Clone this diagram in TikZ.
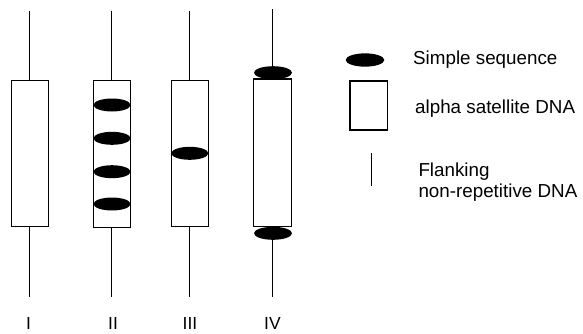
\documentclass[tikz,border=0pt]{standalone}
\usetikzlibrary{shapes.geometric}
\usepackage{fontspec}
\setmainfont{Liberation Sans}
\begin{document}
\begin{tikzpicture}[x=1pt,y=-1pt,
  strand/.style={line width=1.3pt},
  sat/.style={draw,line width=1.3pt,fill=white},
  simple/.style={ellipse,fill=black,draw=none,minimum width=37pt,minimum height=13pt,inner sep=0pt},
  legtext/.style={anchor=base west,inner sep=0pt,font=\fontsize{18.8}{19}\selectfont},
  numlab/.style={anchor=base,inner sep=0pt,font=\fontsize{17.5}{17}\selectfont}]
\useasboundingbox (0,0) rectangle (583,333);
% Column I
\coordinate (t1) at (29.5,10.7);
\coordinate (b1) at (29.5,296.7);
\draw[strand] (t1) -- (b1);
\node[sat,minimum width=37pt,minimum height=146pt,inner sep=0pt] (box1) at (30.2,153.7) {};
\node[numlab] (l1) at (28.5,329) {I};
% Column II
\coordinate (t2) at (111.7,10.7);
\coordinate (b2) at (111.7,296.7);
\draw[strand] (t2) -- (b2);
\node[sat,minimum width=36.6pt,minimum height=147pt,inner sep=0pt] (box2) at (112,154.2) {};
\node[simple] (e2a) at (112,105) {};
\node[simple] (e2b) at (112,138.3) {};
\node[simple] (e2c) at (112,171.7) {};
\node[simple] (e2d) at (112,204) {};
\node[numlab] (l2) at (113,329) {II};
% Column III
\coordinate (t3) at (189.7,10.7);
\coordinate (b3) at (189.7,296.7);
\draw[strand] (t3) -- (b3);
\node[sat,minimum width=37pt,minimum height=146pt,inner sep=0pt] (box3) at (189.8,153.7) {};
\node[simple] (e3) at (189.8,153.3) {};
\node[numlab] (l3) at (190,329) {III};
% Column IV
\coordinate (t4) at (272.7,9.3);
\coordinate (b4) at (272.7,296.7);
\draw[strand] (t4) -- (b4);
\node[sat,minimum width=37.6pt,minimum height=147.7pt,inner sep=0pt] (box4) at (272.5,152.8) {};
\node[simple,minimum width=38pt] (e4a) at (273,72.7) {};
\node[simple,minimum width=38pt] (e4b) at (273,233.3) {};
\node[numlab] (l4) at (272.5,329) {IV};
% Legend
\node[simple,minimum width=38.6pt,minimum height=13.3pt] (legE) at (365,60) {};
\node[legtext] (txtE) at (413,64) {Simple sequence};
\node[sat,minimum width=37.3pt,minimum height=49pt,inner sep=0pt] (legB) at (368.7,105.5) {};
\node[legtext] (txtB) at (415,113.5) {alpha satellite DNA};
\coordinate (legLt) at (371,153.3);
\coordinate (legLb) at (371,186);
\draw[line width=1pt] (legLt) -- (legLb);
\node[legtext] (txtL1) at (418.3,176) {Flanking};
\node[legtext] (txtL2) at (418.3,197) {non-repetitive DNA};
\end{tikzpicture}
\end{document}
